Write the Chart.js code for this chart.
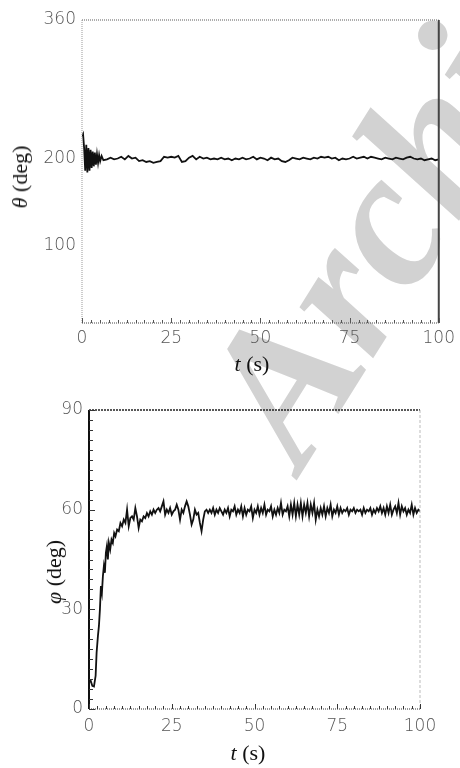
<!DOCTYPE html>
<html>
<head>
<meta charset="utf-8">
<script src="https://cdn.jsdelivr.net/npm/chart.js@4.4.0/dist/chart.umd.min.js"></script>
<style>
  html, body { margin: 0; padding: 0; background: #fff; }
  body { width: 460px; height: 768px; position: relative; overflow: hidden; }
  .mark { position: absolute; left: 0; top: 0; z-index: 0; }
  .box { position: absolute; left: 0; width: 460px; z-index: 1; }
  .ttl { position: absolute; z-index: 2; font-family: 'Liberation Serif', 'DejaVu Serif', serif; font-size: 22px; color: #111; white-space: nowrap; transform: translate(-50%, -50%); }
  .ttl.rot { transform: translate(-50%, -50%) rotate(-90deg); }
</style>
</head>
<body>
<svg class="mark" width="460" height="768">
  <text x="302" y="472" transform="rotate(-58 302 472)" font-family="Liberation Serif, serif" font-weight="bold" font-style="italic" font-size="195" fill="#d2d2d2">Archive</text>
</svg>
<div class="box" style="top:0;height:385px"><canvas id="theta-chart"></canvas></div>
<div class="box" style="top:385px;height:383px"><canvas id="phi-chart"></canvas></div>
<div class="ttl rot" style="left:20px;top:177px"><i>θ</i> (deg)</div>
<div class="ttl" style="left:252px;top:364px"><i>t</i> (s)</div>
<div class="ttl rot" style="left:54px;top:572px"><i>φ</i> (deg)</div>
<div class="ttl" style="left:248px;top:753px"><i>t</i> (s)</div>
<script>
// temps (s) et angle θ (deg)
const tTheta = [0, 0.3, 0.6, 0.9, 1.2, 1.5, 1.8, 2.1, 2.4, 2.7, 3.0, 3.3, 3.6, 3.9, 4.2, 4.5, 4.8, 5.1, 5.5, 6,
  7, 8, 9, 10, 11, 12, 13, 14, 15, 16, 17, 18, 19, 20, 21, 22, 23, 24, 25, 26, 27, 28, 29, 30,
  31, 32, 33, 34, 35, 36, 37, 38, 39, 40, 41, 42, 43, 44, 45, 46, 47, 48, 49, 50,
  51, 52, 53, 54, 55, 56, 57, 58, 59, 60, 61, 62, 63, 64, 65, 66, 67, 68, 69, 70,
  71, 72, 73, 74, 75, 76, 77, 78, 79, 80, 81, 82, 83, 84, 85, 86, 87, 88, 89, 90,
  91, 92, 93, 94, 95, 96, 97, 98, 99, 100];
const theta = [225, 228, 212, 186, 216, 184, 212, 186, 210, 189, 208, 191, 207, 193, 205, 195, 204, 197, 203, 198,
  199, 201, 199, 200, 202, 199, 203, 200, 201, 197, 198, 196, 197, 195, 196, 197, 202, 201, 202, 201, 203, 196, 197, 201,
  203, 199, 202, 200, 201, 199, 200, 199, 201, 199, 200, 198, 200, 199, 201, 199, 200, 202, 199, 201,
  200, 198, 201, 199, 200, 197, 196, 198, 201, 200, 199, 201, 200, 199, 201, 200, 202, 201, 202, 200,
  201, 198, 200, 199, 200, 202, 200, 201, 202, 200, 202, 201, 200, 199, 201, 200, 199, 201, 200, 199,
  201, 202, 200, 199, 200, 198, 199, 200, 198, 199];

// temps (s) et angle φ (deg)
const tPhi = [0, 0.5, 1, 1.5, 2, 2.3, 2.7, 3.0, 3.3, 3.6, 3.9, 4.2, 4.5, 4.8, 5.1, 5.4, 5.7, 6.0, 6.4, 6.8,
  7.2, 7.6, 8, 8.5, 9, 9.5, 10, 10.5, 11, 11.5, 12, 12.5, 13, 13.5, 14, 14.5, 15, 15.5, 16, 16.5,
  17, 17.5, 18, 18.5, 19, 19.5, 20, 20.5, 21, 21.5, 22, 22.5, 23, 23.5, 24, 24.5, 25, 25.5, 26, 26.5,
  27, 27.5, 28, 28.5, 29, 29.5, 30, 30.5, 31, 31.5, 32, 32.5, 33, 33.5, 34, 34.5, 35, 35.5, 36,
  36.5, 37, 37.5, 38, 38.5, 39, 39.5, 40, 40.5, 41,
  41.5, 42, 42.5, 43, 43.5, 44, 44.5, 45, 45.5, 46,
  46.5, 47, 47.5, 48, 48.5, 49, 49.5, 50, 50.5, 51,
  51.5, 52, 52.5, 53, 53.5, 54, 54.5, 55, 55.5, 56,
  56.5, 57, 57.5, 58, 58.5, 59, 59.5, 60, 60.5, 61,
  61.5, 62, 62.5, 63, 63.5, 64, 64.5, 65, 65.5, 66,
  66.5, 67, 67.5, 68, 68.5, 69, 69.5, 70, 70.5, 71,
  71.5, 72, 72.5, 73, 73.5, 74, 74.5, 75, 75.5, 76,
  76.5, 77, 77.5, 78, 78.5, 79, 79.5, 80, 80.5, 81,
  81.5, 82, 82.5, 83, 83.5, 84, 84.5, 85, 85.5, 86,
  86.5, 87, 87.5, 88, 88.5, 89, 89.5, 90, 90.5, 91,
  91.5, 92, 92.5, 93, 93.5, 94, 94.5, 95, 95.5, 96,
  96.5, 97, 97.5, 98, 98.5, 99, 99.5, 100];
const phi = [8, 8.5, 7, 6.8, 10, 17, 22, 25, 30, 37, 35, 40, 43, 41, 47, 49, 45, 50, 48, 51,
  50, 53, 52, 54, 53.5, 56, 55, 57, 56, 60, 55, 57.5, 58, 57, 60.5, 58, 54.5, 57, 56.5, 58,
  57.5, 59, 58, 59.5, 58.5, 60, 59, 60, 60.5, 59.5, 61, 62.5, 58.5, 60, 59, 60.5, 58.5, 59.5, 60, 61.5,
  60, 57, 60, 59, 61, 62.5, 61, 58.5, 55.5, 57, 60, 58.5, 59, 56, 53.5, 57, 59.5, 60, 59,
  60, 59, 60.5, 58.5, 60, 59, 60.5, 59.5, 58.5, 60,
  59, 60.5, 58, 60, 59.5, 61, 58.5, 60, 59, 61,
  58, 60.5, 58.5, 60, 59.5, 61, 57.5, 60, 59, 61,
  58.5, 60.5, 59, 61.5, 58.5, 60, 59.5, 61, 58, 60,
  58.5, 60.5, 59, 62, 58.5, 60, 59.5, 61, 58, 61.5,
  58.5, 62, 58, 61.5, 58.5, 62, 58, 61.5, 59, 62,
  58, 61.5, 59, 62, 57, 60, 58, 60.5, 58.5, 61,
  58, 60.5, 59, 61.5, 58, 60, 59, 61, 58.5, 60.5,
  59, 60, 59.5, 60.5, 58.5, 60, 59.5, 60.5, 59, 60,
  59.5, 60, 58.5, 60.5, 59, 60, 59.5, 60.5, 58.5, 60,
  59, 60.5, 59.5, 61, 59, 60.5, 58.5, 61, 59, 61.5,
  58.5, 60, 61, 59, 62, 58.5, 61, 59.5, 60.5, 58.5,
  60, 59, 61.5, 58.5, 60.5, 59, 60, 59.5];

const tTicks = [0, 25, 50, 75, 100];
const thetaTicks = [100, 200, 360];
const phiTicks = [0, 30, 60, 90];

const tickFont = { family: "'DejaVu Sans', 'Liberation Sans', sans-serif", size: 17, weight: 200 };
const tickColor = '#555';

// cadre et petites graduations vers l'intérieur
const framePlugin = {
  id: 'frame',
  afterDraw(chart, args, opts) {
    const { ctx, chartArea: a, scales } = chart;
    ctx.save();
    const side = (s, x1, y1, x2, y2) => {
      ctx.strokeStyle = s.color;
      ctx.lineWidth = s.width;
      ctx.setLineDash(s.dash || []);
      ctx.beginPath();
      ctx.moveTo(x1, y1);
      ctx.lineTo(x2, y2);
      ctx.stroke();
    };
    side(opts.top, a.left, a.top, a.right, a.top);
    side(opts.right, a.right, a.top, a.right, a.bottom);
    side(opts.bottom, a.left, a.bottom, a.right, a.bottom);
    side(opts.left, a.left, a.top, a.left, a.bottom);
    ctx.setLineDash([]);
    ctx.strokeStyle = opts.tickColor;
    ctx.lineWidth = 1;
    if (opts.xMinor) {
      const sx = scales.x;
      for (let v = sx.min; v <= sx.max + 1e-6; v += opts.xMinor) {
        const px = Math.round(sx.getPixelForValue(v)) + 0.5;
        const len = v % 25 === 0 ? 5 : 3;
        ctx.beginPath();
        ctx.moveTo(px, a.bottom);
        ctx.lineTo(px, a.bottom - len);
        ctx.stroke();
      }
    }
    if (opts.yMinor) {
      const sy = scales.y;
      for (let v = sy.min; v <= sy.max + 1e-6; v += opts.yMinor) {
        const py = Math.round(sy.getPixelForValue(v)) + 0.5;
        const len = v % 30 === 0 ? 6 : 4;
        ctx.beginPath();
        ctx.moveTo(a.left, py);
        ctx.lineTo(a.left + len, py);
        ctx.stroke();
      }
    }
    ctx.restore();
  },
};

function makeChart(canvas, t, values, cfg) {
  return new Chart(canvas, {
    type: 'line',
    data: {
      datasets: [{
        data: t.map((x, i) => ({ x, y: values[i] })),
        borderColor: '#111',
        borderWidth: 1.8,
        pointRadius: 0,
        tension: 0,
      }],
    },
    options: {
      responsive: true,
      maintainAspectRatio: false,
      animation: false,
      layout: { padding: cfg.padding },
      plugins: {
        legend: { display: false },
        tooltip: { enabled: false },
        frame: cfg.frame,
      },
      scales: {
        x: {
          type: 'linear',
          min: 0,
          max: 100,
          grid: { display: false, drawTicks: false },
          border: { display: false },
          afterBuildTicks: (s) => { s.ticks = tTicks.map((v) => ({ value: v })); },
          afterFit: (s) => { s.height = cfg.xHeight; },
          ticks: { font: tickFont, color: tickColor, padding: cfg.xPad, maxRotation: 0 },
        },
        y: {
          min: cfg.yMin,
          max: cfg.yMax,
          grid: { display: false, drawTicks: false },
          border: { display: false },
          afterBuildTicks: (s) => { s.ticks = cfg.yTicks.map((v) => ({ value: v })); },
          afterFit: (s) => { s.width = cfg.yWidth; },
          ticks: { font: tickFont, color: tickColor, padding: 6 },
        },
      },
    },
    plugins: [framePlugin],
  });
}

makeChart(document.getElementById('theta-chart'), tTheta, theta, {
  padding: { top: 20, right: 19, left: 0, bottom: 0 },
  xHeight: 62, yWidth: 82, xPad: 5,
  yMin: 10, yMax: 360, yTicks: thetaTicks,
  frame: {
    top: { color: '#777', width: 1.2, dash: [1, 1] },
    right: { color: '#444', width: 2 },
    bottom: { color: '#666', width: 1.2, dash: [1, 1] },
    left: { color: '#999', width: 1, dash: [1, 1] },
    tickColor: '#555', xMinor: 2.5,
  },
});

makeChart(document.getElementById('phi-chart'), tPhi, phi, {
  padding: { top: 25, right: 40, left: 0, bottom: 0 },
  xHeight: 59, yWidth: 89, xPad: 7,
  yMin: 0, yMax: 90, yTicks: phiTicks,
  frame: {
    top: { color: '#222', width: 1.5, dash: [2, 1] },
    right: { color: '#bbb', width: 1, dash: [3, 2] },
    bottom: { color: '#555', width: 1.2, dash: [1, 1] },
    left: { color: '#111', width: 2 },
    tickColor: '#333', xMinor: 2.5, yMinor: 3,
  },
});
</script>
</body>
</html>
